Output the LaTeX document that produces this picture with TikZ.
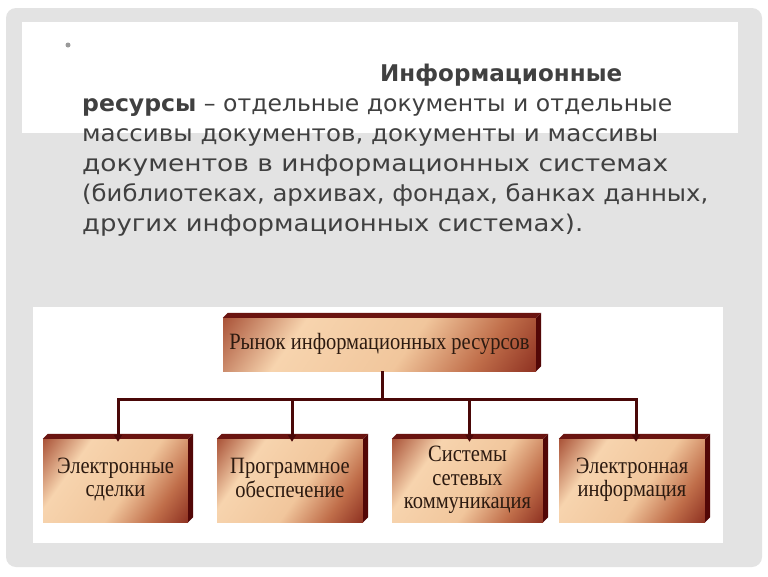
\documentclass[tikz,border=0pt]{standalone}
\usepackage{fontspec}
\setmainfont{Liberation Serif}
\newfontfamily\bodyfont{DejaVu Sans}
\usetikzlibrary{arrows.meta}
\definecolor{bggray}{HTML}{E3E3E3}
\definecolor{txtgray}{HTML}{404040}
\definecolor{bullgray}{HTML}{9A9A9A}
\definecolor{fcA}{HTML}{A44A30}
\definecolor{fcB}{HTML}{F7D4AE}
\definecolor{fcB2}{HTML}{F1C69C}
\definecolor{fcD}{HTML}{C06E4A}
\definecolor{fcC}{HTML}{8A2C1E}
\definecolor{extTop}{HTML}{6A1410}
\definecolor{extSide}{HTML}{520707}
\definecolor{boxtxt}{HTML}{2C1A10}
\definecolor{conncol}{HTML}{4A0808}
\pgfdeclarehorizontalshading{boxshade}{100bp}{color(0bp)=(fcA); color(14bp)=(fcA); color(32bp)=(fcB); color(56bp)=(fcB2); color(72bp)=(fcD); color(86bp)=(fcC); color(100bp)=(fcC)}
\tikzset{
  bodyline/.style={inner sep=0pt, anchor=base west, text=txtgray,
    font=\bodyfont\fontsize{23}{23}\selectfont},
  boxnode/.style={inner sep=0pt, align=center, text=boxtxt,
    font=\fontsize{20.5}{20.5}\selectfont,
    shading=boxshade, shading angle=-35},
  exttopstyle/.style={fill=extTop},
  extsidestyle/.style={fill=extSide},
  connline/.style={draw=conncol, line width=3pt},
  connarrow/.style={connline, -{Triangle[length=7pt,width=8pt]}, shorten >=2pt},
}
\newcommand{\extrudebox}[1]{%
  \fill[exttopstyle] (#1.north west) -- ([shift={(5,-5)}]#1.north west) -- ([shift={(5,-5)}]#1.north east) -- (#1.north east) -- cycle;
  \fill[extsidestyle] (#1.north east) -- ([shift={(5,-5)}]#1.north east) -- ([shift={(5,-5)}]#1.south east) -- (#1.south east) -- cycle;
}
\newcommand{\boxtext}[1]{\scalebox{1}[1.14]{\begin{tabular}{@{}c@{}}#1\end{tabular}}}
\begin{document}
\begin{tikzpicture}[x=1pt,y=-1pt]
\useasboundingbox (0,0) rectangle (768,576);
\fill[white] (0,0) rectangle (768,576);
\fill[bggray, rounded corners=10pt] (6,8) rectangle (762,567);
\fill[white] (22,22) rectangle (738,133);
\fill[white] (33,307) rectangle (723,543);

% bullet
\fill[bullgray] (68,45) circle (2.5);

% body text
\node[bodyline] (l1) at (380,81) {\resizebox{242pt}{\height}{\bfseries Информационные}};
\node[bodyline] (l2) at (82,111) {\resizebox{590pt}{\height}{{\bfseries ресурсы} – отдельные документы и отдельные}};
\node[bodyline] (l3) at (82,141) {\resizebox{576pt}{\height}{массивы документов, документы и массивы}};
\node[bodyline] (l4) at (82,171) {\resizebox{586pt}{\height}{документов в информационных системах}};
\node[bodyline] (l5) at (82,201) {\resizebox{626pt}{\height}{(библиотеках, архивах, фондах, банках данных,}};
\node[bodyline] (l6) at (82,231) {\resizebox{501pt}{\height}{других информационных системах).}};

% boxes
\node[boxnode, minimum width=313pt, minimum height=53pt] (top) at (379.5,344.5) {\boxtext{Рынок информационных ресурсов}};
\node[boxnode, minimum width=145pt, minimum height=83pt] (b1) at (115.5,480.5) {\boxtext{Электронные\\сделки}};
\node[boxnode, minimum width=146pt, minimum height=83pt] (b2) at (290,480.5) {\boxtext{Программное\\обеспечение}};
\node[boxnode, minimum width=151pt, minimum height=83pt] (b3) at (467.5,480.5) {\boxtext{Системы\\сетевых\\коммуникация}};
\node[boxnode, minimum width=146pt, minimum height=83pt] (b4) at (632,480.5) {\boxtext{Электронная\\информация}};
\extrudebox{top}
\extrudebox{b1}
\extrudebox{b2}
\extrudebox{b3}
\extrudebox{b4}

% connectors
\path ([xshift=3pt]top.south) ++(0,28) coordinate (j);
\draw[connline] ([xshift=3pt]top.south) -- (j);
\draw[connarrow] (j) -| ([xshift=2.5pt,yshift=-5pt]b1.north);
\draw[connarrow] (j) -| ([xshift=2pt,yshift=-5pt]b2.north);
\draw[connarrow] (j) -| ([xshift=2pt,yshift=-5pt]b3.north);
\draw[connarrow] (j) -| ([xshift=4pt,yshift=-5pt]b4.north);
\end{tikzpicture}
\end{document}
